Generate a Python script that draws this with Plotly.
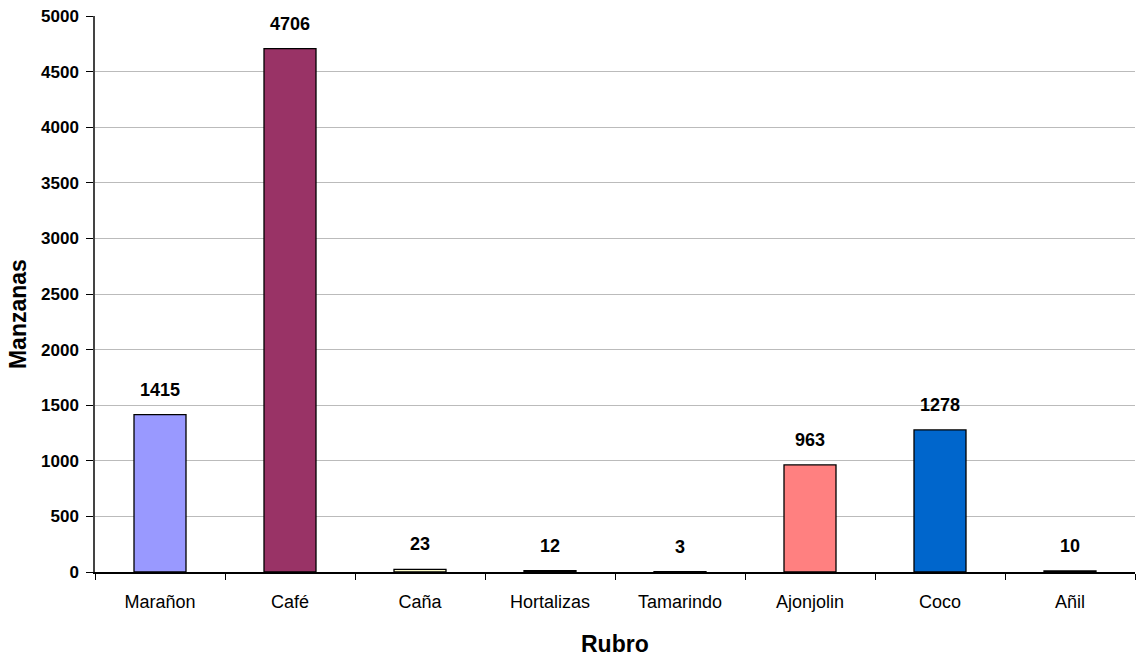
import plotly.graph_objects as go

rubros = ["Marañon", "Café", "Caña", "Hortalizas", "Tamarindo", "Ajonjolin", "Coco", "Añil"]
manzanas = [1415, 4706, 23, 12, 3, 963, 1278, 10]
colores = ["#9999FF", "#993366", "#FFFFCC", "#CCFFFF", "#660066", "#FF8080", "#0066CC", "#CCCCFF"]
y_ticks = list(range(0, 5001, 500))

FONT = "Liberation Sans, Arial, sans-serif"

fig = go.Figure()
fig.add_trace(go.Bar(
    x=rubros,
    y=manzanas,
    marker=dict(color=colores, line=dict(color="#000000", width=1.3)),
    width=0.4,
    hoverinfo="x+y",
))

# value labels above each bar
for r, v in zip(rubros, manzanas):
    fig.add_annotation(
        x=r, y=v, text=f"<b>{v}</b>", showarrow=False,
        yanchor="bottom", yshift=13,
        font=dict(family=FONT, size=18, color="#000000"),
    )

# axis titles
fig.add_annotation(
    xref="paper", yref="paper", x=-0.074, y=0.464,
    text="<b>Manzanas</b>", textangle=-90, showarrow=False,
    xanchor="center", yanchor="middle",
    font=dict(family=FONT, size=23, color="#000000"),
)
fig.add_annotation(
    xref="paper", yref="paper", x=0.5, y=-0.13,
    text="<b>Rubro</b>", showarrow=False,
    xanchor="center", yanchor="middle",
    font=dict(family=FONT, size=23, color="#000000"),
)

fig.update_layout(
    width=1136, height=656,
    margin=dict(l=95, r=1, t=16, b=84),
    paper_bgcolor="#FFFFFF",
    plot_bgcolor="#FFFFFF",
    showlegend=False,
    bargap=0.6,
    font=dict(family=FONT, color="#000000"),
)

fig.update_xaxes(
    type="category",
    tickson="boundaries",
    ticks="outside", ticklen=6, tickcolor="#000000", tickwidth=1,
    showline=True, linecolor="#000000", linewidth=1.5,
    showgrid=False,
    ticklabelstandoff=13,
    tickfont=dict(family=FONT, size=18, color="#000000"),
)

fig.update_yaxes(
    range=[0, 5000],
    tickvals=y_ticks,
    ticks="outside", ticklen=7, tickcolor="#000000", tickwidth=1,
    showline=True, linecolor="#444444", linewidth=1.5,
    showgrid=True, gridcolor="#BBBBBB", gridwidth=1,
    zeroline=False,
    ticklabelstandoff=4,
    tickfont=dict(family=FONT, size=17, color="#000000", weight="bold"),
)

fig.write_html("out.html")
